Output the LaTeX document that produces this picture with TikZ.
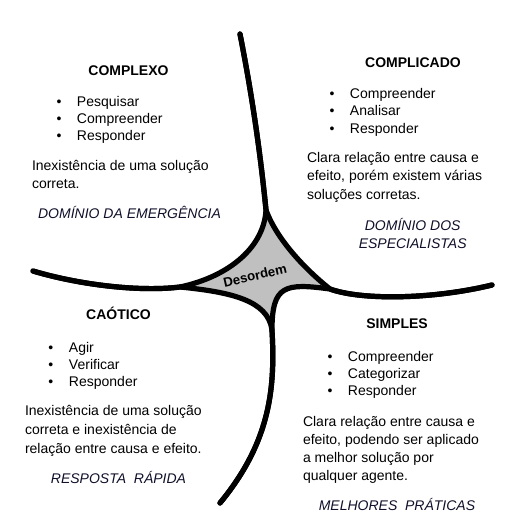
\documentclass[tikz,border=0pt]{standalone}
\usepackage{fontspec}
\setmainfont{Liberation Sans}
\definecolor{domc}{RGB}{16,16,42}
\definecolor{desgray}{RGB}{192,192,192}
\newcommand\txtlines[2]{\parbox[t]{220pt}{\fontsize{14}{#1}\selectfont\raggedright #2}}
\newcommand\bit[1]{\makebox[20.5pt][l]{\textbullet}#1}
\tikzset{
  arm/.style={line width=5.2pt, line cap=round, line join=round},
  txt/.style={inner sep=0pt, outer sep=0pt, anchor=base west, font=\fontsize{14}{18}\selectfont},
  head/.style={inner sep=0pt, outer sep=0pt, anchor=base, font=\fontsize{14}{18}\selectfont\bfseries},
  dom/.style={inner sep=0pt, outer sep=0pt, anchor=base, text=domc, font=\fontsize{14}{18}\selectfont\itshape},
}
\begin{document}
\begin{tikzpicture}[x=1pt, y=-1pt]
\useasboundingbox (0,0) rectangle (516,531);
% arm ends and split points
\coordinate (T) at (240,34);
\coordinate (Ts) at (266,210);
\coordinate (L) at (33,271);
\coordinate (Ls) at (180,287);
\coordinate (R) at (492,285);
\coordinate (Rs) at (330,289);
\coordinate (B) at (220,503);
\coordinate (Bs) at (272,330);
% grey centre
\fill[desgray] (Ts) .. controls (277,240) and (306,270) .. (Rs)
   .. controls (285,283) and (272,285) .. (Bs)
   .. controls (268,300) and (230,292) .. (Ls)
   .. controls (231,276) and (264,246) .. (Ts) -- cycle;
% four boundaries
\draw[arm] (T) .. controls (255,110) and (262,170) .. (Ts)
   .. controls (264,246) and (231,276) .. (Ls)
   .. controls (140,292) and (80,285) .. (L);
\draw[arm] (T) .. controls (255,110) and (262,170) .. (Ts)
   .. controls (277,240) and (306,270) .. (Rs)
   .. controls (360,300) and (430,300) .. (R);
\draw[arm] (R) .. controls (430,300) and (360,300) .. (Rs)
   .. controls (285,283) and (272,285) .. (Bs)
   .. controls (275,385) and (272,440) .. (B);
\draw[arm] (L) .. controls (80,285) and (140,292) .. (Ls)
   .. controls (230,292) and (268,300) .. (Bs)
   .. controls (275,385) and (272,440) .. (B);
\node[rotate=13, inner sep=0pt, font=\fontsize{13.2}{16}\selectfont\bfseries] (des) at (255,275.5) {Desordem};
% COMPLEXO
\node[head] (h1) at (128.5,75) {COMPLEXO};
\node[txt] (b1) at (56.5,106) {\txtlines{17}{\bit{Pesquisar}\\\bit{Compreender}\\\bit{Responder}}};
\node[txt] (p1) at (32,170) {\txtlines{18}{Inexistência de uma solução\\correta.}};
\node[dom] (d1) at (129.5,218) {DOMÍNIO DA EMERGÊNCIA};
% COMPLICADO
\node[head] (h2) at (413,67) {COMPLICADO};
\node[txt] (b2) at (329.5,98) {\txtlines{17.5}{\bit{Compreender}\\\bit{Analisar}\\\bit{Responder}}};
\node[txt] (p2) at (307,162) {\txtlines{18.5}{Clara relação entre causa e\\efeito, porém existem várias\\soluções corretas.}};
\node[dom] (d2) at (412.7,230) {DOMÍNIO DOS};
\node[dom] (d2b) at (412.7,248) {ESPECIALISTAS};
% CAOTICO
\node[head] (h3) at (118.5,319) {CAÓTICO};
\node[txt] (b3) at (48.5,352) {\txtlines{17}{\bit{Agir}\\\bit{Verificar}\\\bit{Responder}}};
\node[txt] (p3) at (25,415) {\txtlines{19}{Inexistência de uma solução\\correta e inexistência de\\relação entre causa e efeito.}};
\node[dom] (d3) at (118.5,483) {RESPOSTA\ \ RÁPIDA};
% SIMPLES
\node[head] (h4) at (397,328) {SIMPLES};
\node[txt] (b4) at (327.5,361) {\txtlines{17}{\bit{Compreender}\\\bit{Categorizar}\\\bit{Responder}}};
\node[txt] (p4) at (303,426) {\txtlines{18.3}{Clara relação entre causa e\\efeito, podendo ser aplicado\\a melhor solução por\\qualquer agente.}};
\node[dom] (d4) at (397,510) {MELHORES\ \ PRÁTICAS};
\end{tikzpicture}
\end{document}
